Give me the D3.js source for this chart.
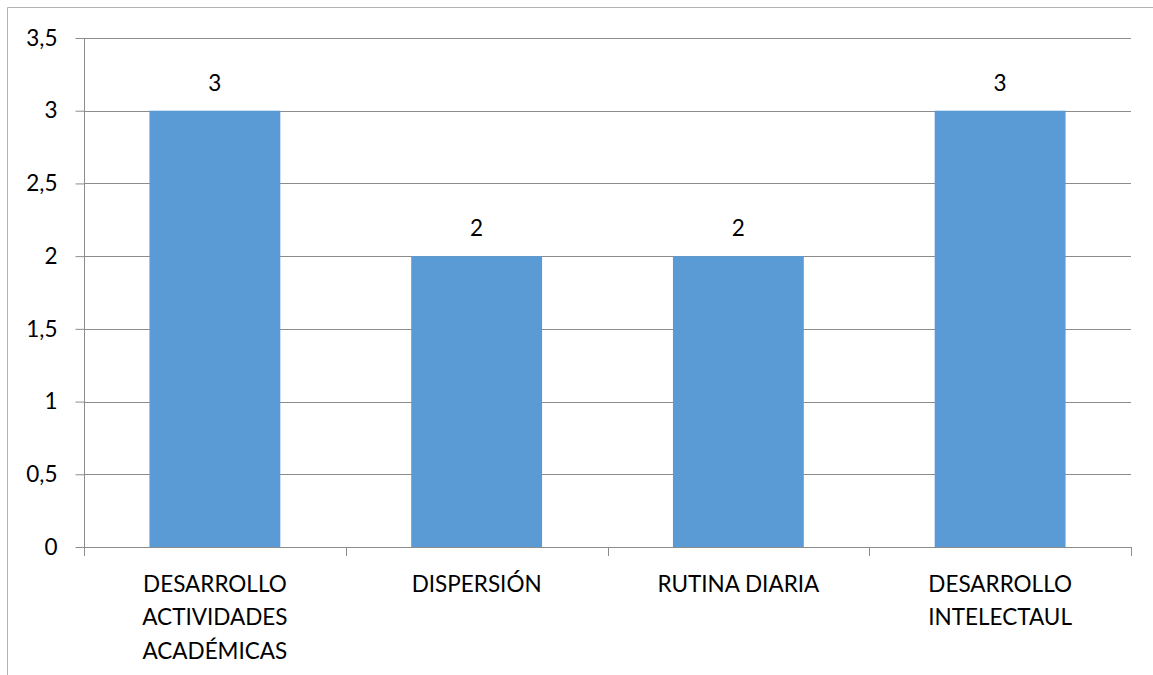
<!DOCTYPE html>
<html>
<head>
<meta charset="utf-8">
<script src="https://cdn.jsdelivr.net/npm/d3@7"></script>
<style>
  html, body { margin: 0; padding: 0; background: #fff; }
  svg { display: block; }
  text { font-family: Lato, "Liberation Sans", sans-serif; fill: #000; }
</style>
</head>
<body>
<svg id="chart" width="1153" height="675"></svg>
<script>
// Chart data
const categories = [
  ["DESARROLLO", "ACTIVIDADES", "ACADÉMICAS"],
  ["DISPERSIÓN"],
  ["RUTINA DIARIA"],
  ["DESARROLLO", "INTELECTAUL"]
];
const values = [3, 2, 2, 3];
const yTicks = [0, 0.5, 1, 1.5, 2, 2.5, 3, 3.5];
const yTickLabels = ["0", "0,5", "1", "1,5", "2", "2,5", "3", "3,5"];

const svg = d3.select("#chart");
const W = 1153, H = 675;
const m = { left: 84, right: 1131, top: 38, bottom: 547 };
const FS = 22.5;

// Outer chart frame (top and left edges visible)
svg.append("path")
  .attr("d", `M7.5,${H} V7.5 H${W}`)
  .attr("fill", "none")
  .attr("stroke", "#b3b3b3")
  .attr("stroke-width", 1);

const idx = categories.map((d, i) => i);
const x = d3.scaleBand().domain(idx).range([m.left, m.right]).paddingInner(0.5).paddingOuter(0.25);
const xOuter = d3.scaleBand().domain(idx).range([m.left, m.right]);
const y = d3.scaleLinear().domain([0, 3.5]).range([m.bottom, m.top]);

// Horizontal gridlines
svg.append("g")
  .selectAll("line")
  .data(yTicks.filter(t => t > 0))
  .join("line")
  .attr("x1", m.left).attr("x2", m.right)
  .attr("y1", d => Math.round(y(d)) + 0.5).attr("y2", d => Math.round(y(d)) + 0.5)
  .attr("stroke", "#8c8c8c").attr("stroke-width", 1);

// Bars
svg.append("g")
  .selectAll("rect")
  .data(values)
  .join("rect")
  .attr("x", (d, i) => x(i))
  .attr("width", x.bandwidth())
  .attr("y", d => y(d))
  .attr("height", d => y(0) - y(d))
  .attr("fill", "#5B9BD5");

// Value labels
svg.append("g")
  .selectAll("text")
  .data(values)
  .join("text")
  .attr("x", (d, i) => x(i) + x.bandwidth() / 2)
  .attr("y", d => y(d) - 20)
  .attr("text-anchor", "middle")
  .attr("font-size", FS)
  .text(d => String(d).replace(".", ","));

// Y axis
const yAxis = d3.axisLeft(y)
  .tickValues(yTicks)
  .tickFormat((d, i) => yTickLabels[i])
  .tickSize(9)
  .tickPadding(18);
const gy = svg.append("g")
  .attr("transform", `translate(${m.left + 0.5},0)`)
  .call(yAxis);
gy.select(".domain").attr("stroke", "#8c8c8c").attr("d", `M0,${m.top}V${m.bottom}`);
gy.selectAll(".tick line").attr("stroke", "#8c8c8c");
gy.selectAll(".tick text").attr("font-size", FS).attr("font-family", "Lato, 'Liberation Sans', sans-serif").attr("fill", "#000");

// X axis baseline and category boundary ticks
const boundaries = idx.map(i => xOuter(i)).concat([m.right]);
svg.append("line")
  .attr("x1", m.left).attr("x2", m.right)
  .attr("y1", m.bottom + 0.5).attr("y2", m.bottom + 0.5)
  .attr("stroke", "#8c8c8c");
svg.append("g")
  .selectAll("line")
  .data(boundaries)
  .join("line")
  .attr("x1", d => Math.round(d) + 0.5).attr("x2", d => Math.round(d) + 0.5)
  .attr("y1", m.bottom).attr("y2", m.bottom + 9)
  .attr("stroke", "#8c8c8c");

// Category labels
const catG = svg.append("g")
  .selectAll("text")
  .data(categories)
  .join("text")
  .attr("x", (d, i) => xOuter(i) + xOuter.bandwidth() / 2)
  .attr("y", 592)
  .attr("text-anchor", "middle")
  .attr("font-size", FS);
catG.selectAll("tspan")
  .data(d => d)
  .join("tspan")
  .attr("x", function() { return d3.select(this.parentNode).attr("x"); })
  .attr("dy", (d, i) => i === 0 ? 0 : 33.3)
  .text(d => d);
</script>
</body>
</html>
